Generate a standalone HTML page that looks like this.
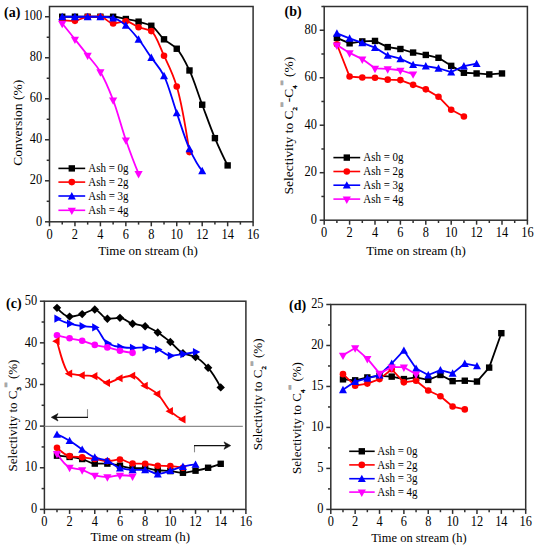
<!DOCTYPE html><html><head><meta charset="utf-8"><style>html,body{margin:0;padding:0;background:#fff}svg{display:block}</style></head><body><svg width="537" height="550" viewBox="0 0 537 550" font-family="'Liberation Serif', serif" fill="#000">
<rect width="537" height="550" fill="#fff"/>
<path d="M62.23,16.75 C66.47,16.75 70.71,16.75 74.95,16.75 C79.19,16.75 83.43,16.75 87.67,16.75 C91.92,16.75 96.16,16.75 100.40,16.75 C104.64,16.75 108.88,16.75 113.12,16.75 C117.37,16.75 121.61,18.19 125.85,19.01 C130.09,19.82 134.33,20.60 138.57,21.67 C142.82,22.75 147.06,23.68 151.30,25.77 C155.54,27.87 159.78,35.60 164.02,39.31 C168.27,43.01 172.51,44.35 176.75,48.74 C180.99,53.12 185.23,61.61 189.47,70.47 C193.72,79.34 197.96,93.44 202.20,104.72 C206.44,115.99 210.68,128.13 214.92,138.14 C219.17,148.15 223.41,157.35 227.65,165.41" fill="none" stroke="#000000" stroke-width="1.8" stroke-linejoin="round"/>
<rect x="59.02" y="13.55" width="6.40" height="6.40" fill="#000000"/>
<rect x="71.75" y="13.55" width="6.40" height="6.40" fill="#000000"/>
<rect x="84.47" y="13.55" width="6.40" height="6.40" fill="#000000"/>
<rect x="97.20" y="13.55" width="6.40" height="6.40" fill="#000000"/>
<rect x="109.92" y="13.55" width="6.40" height="6.40" fill="#000000"/>
<rect x="122.65" y="15.81" width="6.40" height="6.40" fill="#000000"/>
<rect x="135.38" y="18.47" width="6.40" height="6.40" fill="#000000"/>
<rect x="148.10" y="22.57" width="6.40" height="6.40" fill="#000000"/>
<rect x="160.82" y="36.11" width="6.40" height="6.40" fill="#000000"/>
<rect x="173.55" y="45.54" width="6.40" height="6.40" fill="#000000"/>
<rect x="186.28" y="67.27" width="6.40" height="6.40" fill="#000000"/>
<rect x="199.00" y="101.52" width="6.40" height="6.40" fill="#000000"/>
<rect x="211.72" y="134.94" width="6.40" height="6.40" fill="#000000"/>
<rect x="224.45" y="162.21" width="6.40" height="6.40" fill="#000000"/>
<path d="M62.23,19.83 C66.47,20.85 70.71,20.85 74.95,20.85 C79.19,20.85 83.43,16.75 87.67,16.75 C91.92,16.75 96.16,16.75 100.40,16.75 C104.64,16.75 108.88,23.52 113.12,23.52 C117.37,23.52 121.61,21.26 125.85,21.26 C130.09,21.26 134.33,25.64 138.57,27.21 C142.82,28.78 147.06,28.86 151.30,31.11 C155.54,33.35 159.78,46.60 164.02,55.71 C168.27,64.82 172.51,72.51 176.75,86.47 C180.99,100.43 185.23,124.40 189.47,152.08" fill="none" stroke="#ff0000" stroke-width="1.8" stroke-linejoin="round"/>
<circle cx="62.23" cy="19.83" r="3.30" fill="#ff0000"/>
<circle cx="74.95" cy="20.85" r="3.30" fill="#ff0000"/>
<circle cx="87.67" cy="16.75" r="3.30" fill="#ff0000"/>
<circle cx="100.40" cy="16.75" r="3.30" fill="#ff0000"/>
<circle cx="113.12" cy="23.52" r="3.30" fill="#ff0000"/>
<circle cx="125.85" cy="21.26" r="3.30" fill="#ff0000"/>
<circle cx="138.57" cy="27.21" r="3.30" fill="#ff0000"/>
<circle cx="151.30" cy="31.11" r="3.30" fill="#ff0000"/>
<circle cx="164.02" cy="55.71" r="3.30" fill="#ff0000"/>
<circle cx="176.75" cy="86.47" r="3.30" fill="#ff0000"/>
<circle cx="189.47" cy="152.08" r="3.30" fill="#ff0000"/>
<path d="M62.23,16.75 C66.47,16.75 70.71,16.75 74.95,16.75 C79.19,16.75 83.43,16.75 87.67,16.75 C91.92,16.75 96.16,16.75 100.40,16.75 C104.64,16.75 108.88,17.28 113.12,17.98 C117.37,18.69 121.61,22.15 125.85,25.36 C130.09,28.58 134.33,34.04 138.57,39.31 C142.82,44.58 147.06,51.47 151.30,57.56 C155.54,63.64 159.78,67.65 164.02,75.81 C168.27,83.96 172.51,100.76 176.75,112.92 C180.99,125.08 185.23,139.73 189.47,148.80 C193.72,157.88 197.96,165.75 202.20,170.74" fill="none" stroke="#0000ff" stroke-width="1.8" stroke-linejoin="round"/>
<path d="M62.23,12.75 L66.22,20.15 L58.23,20.15Z" fill="#0000ff"/>
<path d="M74.95,12.75 L78.95,20.15 L70.95,20.15Z" fill="#0000ff"/>
<path d="M87.67,12.75 L91.67,20.15 L83.67,20.15Z" fill="#0000ff"/>
<path d="M100.40,12.75 L104.40,20.15 L96.40,20.15Z" fill="#0000ff"/>
<path d="M113.12,13.98 L117.12,21.38 L109.12,21.38Z" fill="#0000ff"/>
<path d="M125.85,21.36 L129.85,28.76 L121.85,28.76Z" fill="#0000ff"/>
<path d="M138.57,35.31 L142.57,42.71 L134.57,42.71Z" fill="#0000ff"/>
<path d="M151.30,53.56 L155.30,60.96 L147.30,60.96Z" fill="#0000ff"/>
<path d="M164.02,71.81 L168.02,79.21 L160.02,79.21Z" fill="#0000ff"/>
<path d="M176.75,108.92 L180.75,116.32 L172.75,116.32Z" fill="#0000ff"/>
<path d="M189.47,144.80 L193.47,152.20 L185.47,152.20Z" fill="#0000ff"/>
<path d="M202.20,166.74 L206.20,174.14 L198.20,174.14Z" fill="#0000ff"/>
<path d="M62.23,23.52 C66.47,28.75 70.71,34.01 74.95,39.31 C79.19,44.60 83.43,49.87 87.67,55.30 C91.92,60.73 96.16,64.95 100.40,71.91 C104.64,78.87 108.88,89.00 113.12,100.00 C117.37,111.00 121.61,127.81 125.85,139.99 C130.09,152.16 134.33,163.46 138.57,173.61" fill="none" stroke="#ff00ff" stroke-width="1.8" stroke-linejoin="round"/>
<path d="M62.23,28.32 L66.33,20.92 L58.12,20.92Z" fill="#ff00ff"/>
<path d="M74.95,44.11 L79.05,36.71 L70.85,36.71Z" fill="#ff00ff"/>
<path d="M87.67,60.10 L91.77,52.70 L83.58,52.70Z" fill="#ff00ff"/>
<path d="M100.40,76.71 L104.50,69.31 L96.30,69.31Z" fill="#ff00ff"/>
<path d="M113.12,104.80 L117.22,97.40 L109.03,97.40Z" fill="#ff00ff"/>
<path d="M125.85,144.79 L129.95,137.39 L121.75,137.39Z" fill="#ff00ff"/>
<path d="M138.57,178.41 L142.67,171.01 L134.47,171.01Z" fill="#ff00ff"/>
<rect x="49.50" y="6.50" width="203.60" height="215.30" fill="none" stroke="#303030" stroke-width="1.5"/>
<line x1="49.50" y1="221.80" x2="49.50" y2="226.30" stroke="#303030" stroke-width="1.5"/>
<text transform="translate(49.50,238.80) scale(0.95,1.06)" font-size="13" text-anchor="middle">0</text>
<line x1="62.23" y1="221.80" x2="62.23" y2="224.60" stroke="#303030" stroke-width="1.5"/>
<line x1="74.95" y1="221.80" x2="74.95" y2="226.30" stroke="#303030" stroke-width="1.5"/>
<text transform="translate(74.95,238.80) scale(0.95,1.06)" font-size="13" text-anchor="middle">2</text>
<line x1="87.67" y1="221.80" x2="87.67" y2="224.60" stroke="#303030" stroke-width="1.5"/>
<line x1="100.40" y1="221.80" x2="100.40" y2="226.30" stroke="#303030" stroke-width="1.5"/>
<text transform="translate(100.40,238.80) scale(0.95,1.06)" font-size="13" text-anchor="middle">4</text>
<line x1="113.12" y1="221.80" x2="113.12" y2="224.60" stroke="#303030" stroke-width="1.5"/>
<line x1="125.85" y1="221.80" x2="125.85" y2="226.30" stroke="#303030" stroke-width="1.5"/>
<text transform="translate(125.85,238.80) scale(0.95,1.06)" font-size="13" text-anchor="middle">6</text>
<line x1="138.57" y1="221.80" x2="138.57" y2="224.60" stroke="#303030" stroke-width="1.5"/>
<line x1="151.30" y1="221.80" x2="151.30" y2="226.30" stroke="#303030" stroke-width="1.5"/>
<text transform="translate(151.30,238.80) scale(0.95,1.06)" font-size="13" text-anchor="middle">8</text>
<line x1="164.02" y1="221.80" x2="164.02" y2="224.60" stroke="#303030" stroke-width="1.5"/>
<line x1="176.75" y1="221.80" x2="176.75" y2="226.30" stroke="#303030" stroke-width="1.5"/>
<text transform="translate(176.75,238.80) scale(0.95,1.06)" font-size="13" text-anchor="middle">10</text>
<line x1="189.47" y1="221.80" x2="189.47" y2="224.60" stroke="#303030" stroke-width="1.5"/>
<line x1="202.20" y1="221.80" x2="202.20" y2="226.30" stroke="#303030" stroke-width="1.5"/>
<text transform="translate(202.20,238.80) scale(0.95,1.06)" font-size="13" text-anchor="middle">12</text>
<line x1="214.92" y1="221.80" x2="214.92" y2="224.60" stroke="#303030" stroke-width="1.5"/>
<line x1="227.65" y1="221.80" x2="227.65" y2="226.30" stroke="#303030" stroke-width="1.5"/>
<text transform="translate(227.65,238.80) scale(0.95,1.06)" font-size="13" text-anchor="middle">14</text>
<line x1="240.38" y1="221.80" x2="240.38" y2="224.60" stroke="#303030" stroke-width="1.5"/>
<line x1="253.10" y1="221.80" x2="253.10" y2="226.30" stroke="#303030" stroke-width="1.5"/>
<text transform="translate(253.10,238.80) scale(0.95,1.06)" font-size="13" text-anchor="middle">16</text>
<line x1="45.00" y1="221.80" x2="49.50" y2="221.80" stroke="#303030" stroke-width="1.5"/>
<text transform="translate(42.20,225.50) scale(0.95,1.06)" font-size="13" text-anchor="end">0</text>
<line x1="45.00" y1="180.79" x2="49.50" y2="180.79" stroke="#303030" stroke-width="1.5"/>
<text transform="translate(42.20,184.49) scale(0.95,1.06)" font-size="13" text-anchor="end">20</text>
<line x1="45.00" y1="139.78" x2="49.50" y2="139.78" stroke="#303030" stroke-width="1.5"/>
<text transform="translate(42.20,143.48) scale(0.95,1.06)" font-size="13" text-anchor="end">40</text>
<line x1="45.00" y1="98.77" x2="49.50" y2="98.77" stroke="#303030" stroke-width="1.5"/>
<text transform="translate(42.20,102.47) scale(0.95,1.06)" font-size="13" text-anchor="end">60</text>
<line x1="45.00" y1="57.76" x2="49.50" y2="57.76" stroke="#303030" stroke-width="1.5"/>
<text transform="translate(42.20,61.46) scale(0.95,1.06)" font-size="13" text-anchor="end">80</text>
<line x1="45.00" y1="16.75" x2="49.50" y2="16.75" stroke="#303030" stroke-width="1.5"/>
<text transform="translate(42.20,20.45) scale(0.95,1.06)" font-size="13" text-anchor="end">100</text>
<line x1="46.70" y1="201.30" x2="49.50" y2="201.30" stroke="#303030" stroke-width="1.5"/>
<line x1="46.70" y1="160.29" x2="49.50" y2="160.29" stroke="#303030" stroke-width="1.5"/>
<line x1="46.70" y1="119.28" x2="49.50" y2="119.28" stroke="#303030" stroke-width="1.5"/>
<line x1="46.70" y1="78.27" x2="49.50" y2="78.27" stroke="#303030" stroke-width="1.5"/>
<line x1="46.70" y1="37.26" x2="49.50" y2="37.26" stroke="#303030" stroke-width="1.5"/>
<line x1="58.4" y1="168.4" x2="85.2" y2="168.4" stroke="#000000" stroke-width="1.6"/>
<rect x="68.60" y="165.20" width="6.40" height="6.40" fill="#000000"/>
<text transform="translate(88.2,172.10) scale(1,1.12)" font-size="11">Ash = 0g</text>
<line x1="58.4" y1="182.1" x2="85.2" y2="182.1" stroke="#ff0000" stroke-width="1.6"/>
<circle cx="71.80" cy="182.10" r="3.30" fill="#ff0000"/>
<text transform="translate(88.2,185.80) scale(1,1.12)" font-size="11">Ash = 2g</text>
<line x1="58.4" y1="196" x2="85.2" y2="196" stroke="#0000ff" stroke-width="1.6"/>
<path d="M71.80,192.00 L75.80,199.40 L67.80,199.40Z" fill="#0000ff"/>
<text transform="translate(88.2,199.70) scale(1,1.12)" font-size="11">Ash = 3g</text>
<line x1="58.4" y1="210.3" x2="85.2" y2="210.3" stroke="#ff00ff" stroke-width="1.6"/>
<path d="M71.80,215.10 L75.90,207.70 L67.70,207.70Z" fill="#ff00ff"/>
<text transform="translate(88.2,214.00) scale(1,1.12)" font-size="11">Ash = 4g</text>
<text transform="translate(148,255) scale(1,1.03)" font-size="13" text-anchor="middle">Time on stream (h)</text>
<text transform="translate(21.5,122.8) rotate(-90)" font-size="13.5" text-anchor="middle">Conversion (%)</text>
<text x="4" y="17" font-size="14" font-weight="bold">(a)</text>
<path d="M336.90,37.84 L349.60,43.30 L362.30,41.40 L375.00,40.93 L387.70,47.10 L400.40,49.00 L413.10,52.56 L425.80,54.94 L438.50,57.79 L451.20,65.86 L463.90,72.75 L476.60,73.46 L489.30,74.41 L502.00,73.46" fill="none" stroke="#000000" stroke-width="1.8" stroke-linejoin="round"/>
<rect x="333.70" y="34.64" width="6.40" height="6.40" fill="#000000"/>
<rect x="346.40" y="40.10" width="6.40" height="6.40" fill="#000000"/>
<rect x="359.10" y="38.20" width="6.40" height="6.40" fill="#000000"/>
<rect x="371.80" y="37.73" width="6.40" height="6.40" fill="#000000"/>
<rect x="384.50" y="43.90" width="6.40" height="6.40" fill="#000000"/>
<rect x="397.20" y="45.80" width="6.40" height="6.40" fill="#000000"/>
<rect x="409.90" y="49.36" width="6.40" height="6.40" fill="#000000"/>
<rect x="422.60" y="51.74" width="6.40" height="6.40" fill="#000000"/>
<rect x="435.30" y="54.59" width="6.40" height="6.40" fill="#000000"/>
<rect x="448.00" y="62.66" width="6.40" height="6.40" fill="#000000"/>
<rect x="460.70" y="69.55" width="6.40" height="6.40" fill="#000000"/>
<rect x="473.40" y="70.26" width="6.40" height="6.40" fill="#000000"/>
<rect x="486.10" y="71.21" width="6.40" height="6.40" fill="#000000"/>
<rect x="498.80" y="70.26" width="6.40" height="6.40" fill="#000000"/>
<path d="M336.90,44.25 L349.60,76.55 L362.30,77.50 L375.00,77.73 L387.70,79.63 L400.40,80.11 L413.10,84.86 L425.80,89.37 L438.50,96.73 L451.20,109.79 L463.90,116.44" fill="none" stroke="#ff0000" stroke-width="1.8" stroke-linejoin="round"/>
<circle cx="336.90" cy="44.25" r="3.30" fill="#ff0000"/>
<circle cx="349.60" cy="76.55" r="3.30" fill="#ff0000"/>
<circle cx="362.30" cy="77.50" r="3.30" fill="#ff0000"/>
<circle cx="375.00" cy="77.73" r="3.30" fill="#ff0000"/>
<circle cx="387.70" cy="79.63" r="3.30" fill="#ff0000"/>
<circle cx="400.40" cy="80.11" r="3.30" fill="#ff0000"/>
<circle cx="413.10" cy="84.86" r="3.30" fill="#ff0000"/>
<circle cx="425.80" cy="89.37" r="3.30" fill="#ff0000"/>
<circle cx="438.50" cy="96.73" r="3.30" fill="#ff0000"/>
<circle cx="451.20" cy="109.79" r="3.30" fill="#ff0000"/>
<circle cx="463.90" cy="116.44" r="3.30" fill="#ff0000"/>
<path d="M336.90,33.33 L349.60,38.32 L362.30,42.83 L375.00,47.58 L387.70,55.41 L400.40,58.74 L413.10,64.67 L425.80,66.10 L438.50,68.24 L451.20,72.03 L463.90,66.10 L476.60,63.72" fill="none" stroke="#0000ff" stroke-width="1.8" stroke-linejoin="round"/>
<path d="M336.90,29.33 L340.90,36.73 L332.90,36.73Z" fill="#0000ff"/>
<path d="M349.60,34.32 L353.60,41.72 L345.60,41.72Z" fill="#0000ff"/>
<path d="M362.30,38.83 L366.30,46.23 L358.30,46.23Z" fill="#0000ff"/>
<path d="M375.00,43.58 L379.00,50.98 L371.00,50.98Z" fill="#0000ff"/>
<path d="M387.70,51.41 L391.70,58.81 L383.70,58.81Z" fill="#0000ff"/>
<path d="M400.40,54.74 L404.40,62.14 L396.40,62.14Z" fill="#0000ff"/>
<path d="M413.10,60.67 L417.10,68.07 L409.10,68.07Z" fill="#0000ff"/>
<path d="M425.80,62.10 L429.80,69.50 L421.80,69.50Z" fill="#0000ff"/>
<path d="M438.50,64.24 L442.50,71.64 L434.50,71.64Z" fill="#0000ff"/>
<path d="M451.20,68.03 L455.20,75.43 L447.20,75.43Z" fill="#0000ff"/>
<path d="M463.90,62.10 L467.90,69.50 L459.90,69.50Z" fill="#0000ff"/>
<path d="M476.60,59.72 L480.60,67.12 L472.60,67.12Z" fill="#0000ff"/>
<path d="M336.90,45.08 L349.60,52.92 L362.30,59.09 L375.00,68.35 L387.70,68.83 L400.40,70.25 L413.10,74.05" fill="none" stroke="#ff00ff" stroke-width="1.8" stroke-linejoin="round"/>
<path d="M336.90,49.88 L341.00,42.48 L332.80,42.48Z" fill="#ff00ff"/>
<path d="M349.60,57.72 L353.70,50.32 L345.50,50.32Z" fill="#ff00ff"/>
<path d="M362.30,63.89 L366.40,56.49 L358.20,56.49Z" fill="#ff00ff"/>
<path d="M375.00,73.15 L379.10,65.75 L370.90,65.75Z" fill="#ff00ff"/>
<path d="M387.70,73.63 L391.80,66.23 L383.60,66.23Z" fill="#ff00ff"/>
<path d="M400.40,75.05 L404.50,67.65 L396.30,67.65Z" fill="#ff00ff"/>
<path d="M413.10,78.85 L417.20,71.45 L409.00,71.45Z" fill="#ff00ff"/>
<rect x="324.20" y="6.50" width="203.20" height="213.70" fill="none" stroke="#303030" stroke-width="1.5"/>
<line x1="324.20" y1="220.20" x2="324.20" y2="224.70" stroke="#303030" stroke-width="1.5"/>
<text transform="translate(324.20,237.20) scale(0.95,1.06)" font-size="13" text-anchor="middle">0</text>
<line x1="336.90" y1="220.20" x2="336.90" y2="223.00" stroke="#303030" stroke-width="1.5"/>
<line x1="349.60" y1="220.20" x2="349.60" y2="224.70" stroke="#303030" stroke-width="1.5"/>
<text transform="translate(349.60,237.20) scale(0.95,1.06)" font-size="13" text-anchor="middle">2</text>
<line x1="362.30" y1="220.20" x2="362.30" y2="223.00" stroke="#303030" stroke-width="1.5"/>
<line x1="375.00" y1="220.20" x2="375.00" y2="224.70" stroke="#303030" stroke-width="1.5"/>
<text transform="translate(375.00,237.20) scale(0.95,1.06)" font-size="13" text-anchor="middle">4</text>
<line x1="387.70" y1="220.20" x2="387.70" y2="223.00" stroke="#303030" stroke-width="1.5"/>
<line x1="400.40" y1="220.20" x2="400.40" y2="224.70" stroke="#303030" stroke-width="1.5"/>
<text transform="translate(400.40,237.20) scale(0.95,1.06)" font-size="13" text-anchor="middle">6</text>
<line x1="413.10" y1="220.20" x2="413.10" y2="223.00" stroke="#303030" stroke-width="1.5"/>
<line x1="425.80" y1="220.20" x2="425.80" y2="224.70" stroke="#303030" stroke-width="1.5"/>
<text transform="translate(425.80,237.20) scale(0.95,1.06)" font-size="13" text-anchor="middle">8</text>
<line x1="438.50" y1="220.20" x2="438.50" y2="223.00" stroke="#303030" stroke-width="1.5"/>
<line x1="451.20" y1="220.20" x2="451.20" y2="224.70" stroke="#303030" stroke-width="1.5"/>
<text transform="translate(451.20,237.20) scale(0.95,1.06)" font-size="13" text-anchor="middle">10</text>
<line x1="463.90" y1="220.20" x2="463.90" y2="223.00" stroke="#303030" stroke-width="1.5"/>
<line x1="476.60" y1="220.20" x2="476.60" y2="224.70" stroke="#303030" stroke-width="1.5"/>
<text transform="translate(476.60,237.20) scale(0.95,1.06)" font-size="13" text-anchor="middle">12</text>
<line x1="489.30" y1="220.20" x2="489.30" y2="223.00" stroke="#303030" stroke-width="1.5"/>
<line x1="502.00" y1="220.20" x2="502.00" y2="224.70" stroke="#303030" stroke-width="1.5"/>
<text transform="translate(502.00,237.20) scale(0.95,1.06)" font-size="13" text-anchor="middle">14</text>
<line x1="514.70" y1="220.20" x2="514.70" y2="223.00" stroke="#303030" stroke-width="1.5"/>
<line x1="527.40" y1="220.20" x2="527.40" y2="224.70" stroke="#303030" stroke-width="1.5"/>
<text transform="translate(527.40,237.20) scale(0.95,1.06)" font-size="13" text-anchor="middle">16</text>
<line x1="319.70" y1="220.20" x2="324.20" y2="220.20" stroke="#303030" stroke-width="1.5"/>
<text transform="translate(316.90,223.90) scale(0.95,1.06)" font-size="13" text-anchor="end">0</text>
<line x1="319.70" y1="172.71" x2="324.20" y2="172.71" stroke="#303030" stroke-width="1.5"/>
<text transform="translate(316.90,176.41) scale(0.95,1.06)" font-size="13" text-anchor="end">20</text>
<line x1="319.70" y1="125.22" x2="324.20" y2="125.22" stroke="#303030" stroke-width="1.5"/>
<text transform="translate(316.90,128.92) scale(0.95,1.06)" font-size="13" text-anchor="end">40</text>
<line x1="319.70" y1="77.73" x2="324.20" y2="77.73" stroke="#303030" stroke-width="1.5"/>
<text transform="translate(316.90,81.43) scale(0.95,1.06)" font-size="13" text-anchor="end">60</text>
<line x1="319.70" y1="30.24" x2="324.20" y2="30.24" stroke="#303030" stroke-width="1.5"/>
<text transform="translate(316.90,33.94) scale(0.95,1.06)" font-size="13" text-anchor="end">80</text>
<line x1="321.40" y1="196.46" x2="324.20" y2="196.46" stroke="#303030" stroke-width="1.5"/>
<line x1="321.40" y1="148.97" x2="324.20" y2="148.97" stroke="#303030" stroke-width="1.5"/>
<line x1="321.40" y1="101.48" x2="324.20" y2="101.48" stroke="#303030" stroke-width="1.5"/>
<line x1="321.40" y1="53.99" x2="324.20" y2="53.99" stroke="#303030" stroke-width="1.5"/>
<line x1="321.40" y1="6.50" x2="324.20" y2="6.50" stroke="#303030" stroke-width="1.5"/>
<line x1="333.4" y1="157.6" x2="360.2" y2="157.6" stroke="#000000" stroke-width="1.6"/>
<rect x="343.60" y="154.40" width="6.40" height="6.40" fill="#000000"/>
<text transform="translate(363.2,161.30) scale(1,1.12)" font-size="11">Ash = 0g</text>
<line x1="333.4" y1="171.5" x2="360.2" y2="171.5" stroke="#ff0000" stroke-width="1.6"/>
<circle cx="346.80" cy="171.50" r="3.30" fill="#ff0000"/>
<text transform="translate(363.2,175.20) scale(1,1.12)" font-size="11">Ash = 2g</text>
<line x1="333.4" y1="185.2" x2="360.2" y2="185.2" stroke="#0000ff" stroke-width="1.6"/>
<path d="M346.80,181.20 L350.80,188.60 L342.80,188.60Z" fill="#0000ff"/>
<text transform="translate(363.2,188.90) scale(1,1.12)" font-size="11">Ash = 3g</text>
<line x1="333.4" y1="199.1" x2="360.2" y2="199.1" stroke="#ff00ff" stroke-width="1.6"/>
<path d="M346.80,203.90 L350.90,196.50 L342.70,196.50Z" fill="#ff00ff"/>
<text transform="translate(363.2,202.80) scale(1,1.12)" font-size="11">Ash = 4g</text>
<text transform="translate(416,255) scale(1,1.03)" font-size="13" text-anchor="middle">Time on stream (h)</text>
<text x="284.6" y="15.8" font-size="14" font-weight="bold">(b)</text>
<path d="M56.99,307.86 C61.19,312.65 65.39,316.61 69.59,316.61 C73.79,316.61 77.98,315.19 82.18,314.11 C86.38,313.03 90.58,309.53 94.78,309.53 C98.97,309.53 103.17,318.69 107.37,318.69 C111.57,318.69 115.76,317.86 119.96,317.86 C124.16,317.86 128.36,322.52 132.56,323.69 C136.75,324.85 140.95,324.99 145.15,326.18 C149.35,327.37 153.55,329.91 157.74,332.43 C161.94,334.95 166.14,338.56 170.34,342.01 C174.54,345.45 178.73,351.38 182.93,353.25 C187.13,355.12 191.33,355.14 195.53,357.00 C199.72,358.85 203.92,363.18 208.12,367.82 C212.32,372.47 216.51,379.41 220.71,387.39" fill="none" stroke="#000000" stroke-width="1.8" stroke-linejoin="round"/>
<path d="M56.99,303.66 L61.19,307.86 L56.99,312.06 L52.79,307.86Z" fill="#000000"/>
<path d="M69.59,312.41 L73.79,316.61 L69.59,320.81 L65.39,316.61Z" fill="#000000"/>
<path d="M82.18,309.91 L86.38,314.11 L82.18,318.31 L77.98,314.11Z" fill="#000000"/>
<path d="M94.78,305.33 L98.98,309.53 L94.78,313.73 L90.58,309.53Z" fill="#000000"/>
<path d="M107.37,314.49 L111.57,318.69 L107.37,322.89 L103.17,318.69Z" fill="#000000"/>
<path d="M119.96,313.66 L124.16,317.86 L119.96,322.06 L115.76,317.86Z" fill="#000000"/>
<path d="M132.56,319.49 L136.76,323.69 L132.56,327.89 L128.36,323.69Z" fill="#000000"/>
<path d="M145.15,321.98 L149.35,326.18 L145.15,330.38 L140.95,326.18Z" fill="#000000"/>
<path d="M157.74,328.23 L161.94,332.43 L157.74,336.63 L153.54,332.43Z" fill="#000000"/>
<path d="M170.34,337.81 L174.54,342.01 L170.34,346.21 L166.14,342.01Z" fill="#000000"/>
<path d="M182.93,349.05 L187.13,353.25 L182.93,357.45 L178.73,353.25Z" fill="#000000"/>
<path d="M195.53,352.80 L199.72,357.00 L195.53,361.20 L191.33,357.00Z" fill="#000000"/>
<path d="M208.12,363.62 L212.32,367.82 L208.12,372.02 L203.92,367.82Z" fill="#000000"/>
<path d="M220.71,383.19 L224.91,387.39 L220.71,391.59 L216.51,387.39Z" fill="#000000"/>
<path d="M56.99,318.69 C61.19,320.77 65.39,322.58 69.59,323.69 C73.79,324.80 77.98,325.63 82.18,326.18 C86.38,326.74 90.58,326.66 94.78,327.43 C98.97,328.21 103.17,341.24 107.37,343.26 C111.57,345.28 115.76,346.55 119.96,347.00 C124.16,347.46 128.36,347.84 132.56,347.84 C136.75,347.84 140.95,347.42 145.15,347.42 C149.35,347.42 153.55,348.46 157.74,349.50 C161.94,350.54 166.14,355.75 170.34,355.75 C174.54,355.75 178.73,354.70 182.93,354.08 C187.13,353.47 191.33,352.76 195.53,352.00" fill="none" stroke="#0000ff" stroke-width="1.8" stroke-linejoin="round"/>
<path d="M61.79,318.69 L54.39,314.59 L54.39,322.79Z" fill="#0000ff"/>
<path d="M74.39,323.69 L66.99,319.59 L66.99,327.79Z" fill="#0000ff"/>
<path d="M86.98,326.18 L79.58,322.08 L79.58,330.28Z" fill="#0000ff"/>
<path d="M99.58,327.43 L92.18,323.33 L92.18,331.53Z" fill="#0000ff"/>
<path d="M112.17,343.26 L104.77,339.16 L104.77,347.36Z" fill="#0000ff"/>
<path d="M124.76,347.00 L117.36,342.90 L117.36,351.10Z" fill="#0000ff"/>
<path d="M137.36,347.84 L129.96,343.74 L129.96,351.94Z" fill="#0000ff"/>
<path d="M149.95,347.42 L142.55,343.32 L142.55,351.52Z" fill="#0000ff"/>
<path d="M162.54,349.50 L155.14,345.40 L155.14,353.60Z" fill="#0000ff"/>
<path d="M175.14,355.75 L167.74,351.65 L167.74,359.85Z" fill="#0000ff"/>
<path d="M187.73,354.08 L180.33,349.98 L180.33,358.18Z" fill="#0000ff"/>
<path d="M200.33,352.00 L192.93,347.90 L192.93,356.10Z" fill="#0000ff"/>
<path d="M56.99,335.34 C61.19,336.39 65.39,337.36 69.59,338.26 C73.79,339.16 77.98,339.72 82.18,340.76 C86.38,341.80 90.58,343.88 94.78,344.92 C98.97,345.96 103.17,346.47 107.37,347.42 C111.57,348.37 115.76,349.90 119.96,350.75 C124.16,351.61 128.36,352.35 132.56,352.83" fill="none" stroke="#ff00ff" stroke-width="1.8" stroke-linejoin="round"/>
<circle cx="56.99" cy="335.34" r="3.30" fill="#ff00ff"/>
<circle cx="69.59" cy="338.26" r="3.30" fill="#ff00ff"/>
<circle cx="82.18" cy="340.76" r="3.30" fill="#ff00ff"/>
<circle cx="94.78" cy="344.92" r="3.30" fill="#ff00ff"/>
<circle cx="107.37" cy="347.42" r="3.30" fill="#ff00ff"/>
<circle cx="119.96" cy="350.75" r="3.30" fill="#ff00ff"/>
<circle cx="132.56" cy="352.83" r="3.30" fill="#ff00ff"/>
<path d="M56.99,341.17 C61.19,357.14 65.39,372.60 69.59,373.65 C73.79,374.71 77.98,374.95 82.18,375.32 C86.38,375.69 90.58,375.66 94.78,376.15 C98.97,376.65 103.17,382.81 107.37,382.81 C111.57,382.81 115.76,379.31 119.96,378.23 C124.16,377.16 128.36,375.74 132.56,375.74 C136.75,375.74 140.95,382.70 145.15,385.73 C149.35,388.76 153.55,390.33 157.74,394.06 C161.94,397.79 166.14,407.40 170.34,411.13 C174.54,414.86 178.73,418.14 182.93,419.46" fill="none" stroke="#ff0000" stroke-width="1.8" stroke-linejoin="round"/>
<path d="M52.19,341.17 L59.59,337.07 L59.59,345.27Z" fill="#ff0000"/>
<path d="M64.79,373.65 L72.19,369.55 L72.19,377.75Z" fill="#ff0000"/>
<path d="M77.38,375.32 L84.78,371.22 L84.78,379.42Z" fill="#ff0000"/>
<path d="M89.98,376.15 L97.38,372.05 L97.38,380.25Z" fill="#ff0000"/>
<path d="M102.57,382.81 L109.97,378.71 L109.97,386.91Z" fill="#ff0000"/>
<path d="M115.16,378.23 L122.56,374.13 L122.56,382.33Z" fill="#ff0000"/>
<path d="M127.76,375.74 L135.16,371.64 L135.16,379.84Z" fill="#ff0000"/>
<path d="M140.35,385.73 L147.75,381.63 L147.75,389.83Z" fill="#ff0000"/>
<path d="M152.94,394.06 L160.34,389.96 L160.34,398.16Z" fill="#ff0000"/>
<path d="M165.54,411.13 L172.94,407.03 L172.94,415.23Z" fill="#ff0000"/>
<path d="M178.13,419.46 L185.53,415.36 L185.53,423.56Z" fill="#ff0000"/>
<path d="M56.99,455.68 C61.19,455.96 65.39,456.41 69.59,456.93 C73.79,457.45 77.98,458.06 82.18,459.02 C86.38,459.97 90.58,463.60 94.78,463.60 C98.97,463.60 103.17,463.60 107.37,463.60 C111.57,463.60 115.76,464.92 119.96,465.68 C124.16,466.44 128.36,468.18 132.56,468.18 C136.75,468.18 140.95,468.18 145.15,468.18 C149.35,468.18 153.55,469.86 157.74,470.26 C161.94,470.65 166.14,470.72 170.34,471.09 C174.54,471.46 178.73,472.76 182.93,472.76 C187.13,472.76 191.33,471.48 195.53,470.67 C199.72,469.87 203.92,468.88 208.12,467.76 C212.32,466.64 216.51,465.30 220.71,463.80" fill="none" stroke="#000000" stroke-width="1.8" stroke-linejoin="round"/>
<rect x="53.79" y="452.48" width="6.40" height="6.40" fill="#000000"/>
<rect x="66.39" y="453.73" width="6.40" height="6.40" fill="#000000"/>
<rect x="78.98" y="455.82" width="6.40" height="6.40" fill="#000000"/>
<rect x="91.58" y="460.40" width="6.40" height="6.40" fill="#000000"/>
<rect x="104.17" y="460.40" width="6.40" height="6.40" fill="#000000"/>
<rect x="116.76" y="462.48" width="6.40" height="6.40" fill="#000000"/>
<rect x="129.36" y="464.98" width="6.40" height="6.40" fill="#000000"/>
<rect x="141.95" y="464.98" width="6.40" height="6.40" fill="#000000"/>
<rect x="154.54" y="467.06" width="6.40" height="6.40" fill="#000000"/>
<rect x="167.14" y="467.89" width="6.40" height="6.40" fill="#000000"/>
<rect x="179.73" y="469.56" width="6.40" height="6.40" fill="#000000"/>
<rect x="192.33" y="467.47" width="6.40" height="6.40" fill="#000000"/>
<rect x="204.92" y="464.56" width="6.40" height="6.40" fill="#000000"/>
<rect x="217.51" y="460.60" width="6.40" height="6.40" fill="#000000"/>
<path d="M56.99,447.77 C61.19,451.73 65.39,455.38 69.59,456.10 C73.79,456.82 77.98,456.87 82.18,457.35 C86.38,457.83 90.58,458.40 94.78,459.02 C98.97,459.63 103.17,461.10 107.37,461.10 C111.57,461.10 115.76,459.43 119.96,459.43 C124.16,459.43 128.36,463.46 132.56,463.60 C136.75,463.73 140.95,463.68 145.15,463.80 C149.35,463.93 153.55,465.45 157.74,465.68 C161.94,465.91 166.14,465.87 170.34,466.09 C174.54,466.32 178.73,467.00 182.93,467.76" fill="none" stroke="#ff0000" stroke-width="1.8" stroke-linejoin="round"/>
<circle cx="56.99" cy="447.77" r="3.30" fill="#ff0000"/>
<circle cx="69.59" cy="456.10" r="3.30" fill="#ff0000"/>
<circle cx="82.18" cy="457.35" r="3.30" fill="#ff0000"/>
<circle cx="94.78" cy="459.02" r="3.30" fill="#ff0000"/>
<circle cx="107.37" cy="461.10" r="3.30" fill="#ff0000"/>
<circle cx="119.96" cy="459.43" r="3.30" fill="#ff0000"/>
<circle cx="132.56" cy="463.60" r="3.30" fill="#ff0000"/>
<circle cx="145.15" cy="463.80" r="3.30" fill="#ff0000"/>
<circle cx="157.74" cy="465.68" r="3.30" fill="#ff0000"/>
<circle cx="170.34" cy="466.09" r="3.30" fill="#ff0000"/>
<circle cx="182.93" cy="467.76" r="3.30" fill="#ff0000"/>
<path d="M56.99,434.45 C61.19,436.11 65.39,438.26 69.59,440.69 C73.79,443.12 77.98,446.67 82.18,449.44 C86.38,452.21 90.58,455.79 94.78,457.35 C98.97,458.91 103.17,459.14 107.37,460.68 C111.57,462.22 115.76,467.27 119.96,468.18 C124.16,469.08 128.36,469.84 132.56,469.84 C136.75,469.84 140.95,469.84 145.15,469.84 C149.35,469.84 153.55,474.01 157.74,474.01 C161.94,474.01 166.14,471.91 170.34,470.67 C174.54,469.44 178.73,467.44 182.93,466.51 C187.13,465.59 191.33,464.78 195.53,464.43" fill="none" stroke="#0000ff" stroke-width="1.8" stroke-linejoin="round"/>
<path d="M56.99,430.45 L60.99,437.85 L52.99,437.85Z" fill="#0000ff"/>
<path d="M69.59,436.69 L73.59,444.09 L65.59,444.09Z" fill="#0000ff"/>
<path d="M82.18,445.44 L86.18,452.84 L78.18,452.84Z" fill="#0000ff"/>
<path d="M94.78,453.35 L98.78,460.75 L90.78,460.75Z" fill="#0000ff"/>
<path d="M107.37,456.68 L111.37,464.08 L103.37,464.08Z" fill="#0000ff"/>
<path d="M119.96,464.18 L123.96,471.58 L115.96,471.58Z" fill="#0000ff"/>
<path d="M132.56,465.84 L136.56,473.24 L128.56,473.24Z" fill="#0000ff"/>
<path d="M145.15,465.84 L149.15,473.24 L141.15,473.24Z" fill="#0000ff"/>
<path d="M157.74,470.01 L161.74,477.41 L153.74,477.41Z" fill="#0000ff"/>
<path d="M170.34,466.67 L174.34,474.07 L166.34,474.07Z" fill="#0000ff"/>
<path d="M182.93,462.51 L186.93,469.91 L178.93,469.91Z" fill="#0000ff"/>
<path d="M195.53,460.43 L199.53,467.83 L191.53,467.83Z" fill="#0000ff"/>
<path d="M56.99,453.60 C61.19,460.06 65.39,465.93 69.59,467.34 C73.79,468.75 77.98,468.70 82.18,469.84 C86.38,470.98 90.58,474.41 94.78,475.26 C98.97,476.10 103.17,476.92 107.37,476.92 C111.57,476.92 115.76,475.26 119.96,475.26 C124.16,475.26 128.36,475.39 132.56,476.09" fill="none" stroke="#ff00ff" stroke-width="1.8" stroke-linejoin="round"/>
<path d="M56.99,458.40 L61.09,451.00 L52.89,451.00Z" fill="#ff00ff"/>
<path d="M69.59,472.14 L73.69,464.74 L65.49,464.74Z" fill="#ff00ff"/>
<path d="M82.18,474.64 L86.28,467.24 L78.08,467.24Z" fill="#ff00ff"/>
<path d="M94.78,480.06 L98.88,472.66 L90.68,472.66Z" fill="#ff00ff"/>
<path d="M107.37,481.72 L111.47,474.32 L103.27,474.32Z" fill="#ff00ff"/>
<path d="M119.96,480.06 L124.06,472.66 L115.86,472.66Z" fill="#ff00ff"/>
<path d="M132.56,480.89 L136.66,473.49 L128.46,473.49Z" fill="#ff00ff"/>
<rect x="44.40" y="301.20" width="201.50" height="208.20" fill="none" stroke="#303030" stroke-width="1.5"/>
<line x1="44.40" y1="509.40" x2="44.40" y2="513.90" stroke="#303030" stroke-width="1.5"/>
<text transform="translate(44.40,526.40) scale(0.95,1.06)" font-size="13" text-anchor="middle">0</text>
<line x1="56.99" y1="509.40" x2="56.99" y2="512.20" stroke="#303030" stroke-width="1.5"/>
<line x1="69.59" y1="509.40" x2="69.59" y2="513.90" stroke="#303030" stroke-width="1.5"/>
<text transform="translate(69.59,526.40) scale(0.95,1.06)" font-size="13" text-anchor="middle">2</text>
<line x1="82.18" y1="509.40" x2="82.18" y2="512.20" stroke="#303030" stroke-width="1.5"/>
<line x1="94.78" y1="509.40" x2="94.78" y2="513.90" stroke="#303030" stroke-width="1.5"/>
<text transform="translate(94.78,526.40) scale(0.95,1.06)" font-size="13" text-anchor="middle">4</text>
<line x1="107.37" y1="509.40" x2="107.37" y2="512.20" stroke="#303030" stroke-width="1.5"/>
<line x1="119.96" y1="509.40" x2="119.96" y2="513.90" stroke="#303030" stroke-width="1.5"/>
<text transform="translate(119.96,526.40) scale(0.95,1.06)" font-size="13" text-anchor="middle">6</text>
<line x1="132.56" y1="509.40" x2="132.56" y2="512.20" stroke="#303030" stroke-width="1.5"/>
<line x1="145.15" y1="509.40" x2="145.15" y2="513.90" stroke="#303030" stroke-width="1.5"/>
<text transform="translate(145.15,526.40) scale(0.95,1.06)" font-size="13" text-anchor="middle">8</text>
<line x1="157.74" y1="509.40" x2="157.74" y2="512.20" stroke="#303030" stroke-width="1.5"/>
<line x1="170.34" y1="509.40" x2="170.34" y2="513.90" stroke="#303030" stroke-width="1.5"/>
<text transform="translate(170.34,526.40) scale(0.95,1.06)" font-size="13" text-anchor="middle">10</text>
<line x1="182.93" y1="509.40" x2="182.93" y2="512.20" stroke="#303030" stroke-width="1.5"/>
<line x1="195.53" y1="509.40" x2="195.53" y2="513.90" stroke="#303030" stroke-width="1.5"/>
<text transform="translate(195.53,526.40) scale(0.95,1.06)" font-size="13" text-anchor="middle">12</text>
<line x1="208.12" y1="509.40" x2="208.12" y2="512.20" stroke="#303030" stroke-width="1.5"/>
<line x1="220.71" y1="509.40" x2="220.71" y2="513.90" stroke="#303030" stroke-width="1.5"/>
<text transform="translate(220.71,526.40) scale(0.95,1.06)" font-size="13" text-anchor="middle">14</text>
<line x1="233.31" y1="509.40" x2="233.31" y2="512.20" stroke="#303030" stroke-width="1.5"/>
<line x1="245.90" y1="509.40" x2="245.90" y2="513.90" stroke="#303030" stroke-width="1.5"/>
<text transform="translate(245.90,526.40) scale(0.95,1.06)" font-size="13" text-anchor="middle">16</text>
<line x1="39.90" y1="509.40" x2="44.40" y2="509.40" stroke="#303030" stroke-width="1.5"/>
<text transform="translate(37.10,513.10) scale(0.95,1.06)" font-size="13" text-anchor="end">0</text>
<line x1="39.90" y1="467.76" x2="44.40" y2="467.76" stroke="#303030" stroke-width="1.5"/>
<text transform="translate(37.10,471.46) scale(0.95,1.06)" font-size="13" text-anchor="end">10</text>
<line x1="39.90" y1="426.12" x2="44.40" y2="426.12" stroke="#303030" stroke-width="1.5"/>
<text transform="translate(37.10,429.82) scale(0.95,1.06)" font-size="13" text-anchor="end">20</text>
<line x1="39.90" y1="384.48" x2="44.40" y2="384.48" stroke="#303030" stroke-width="1.5"/>
<text transform="translate(37.10,388.18) scale(0.95,1.06)" font-size="13" text-anchor="end">30</text>
<line x1="39.90" y1="342.84" x2="44.40" y2="342.84" stroke="#303030" stroke-width="1.5"/>
<text transform="translate(37.10,346.54) scale(0.95,1.06)" font-size="13" text-anchor="end">40</text>
<line x1="39.90" y1="301.20" x2="44.40" y2="301.20" stroke="#303030" stroke-width="1.5"/>
<text transform="translate(37.10,304.90) scale(0.95,1.06)" font-size="13" text-anchor="end">50</text>
<line x1="41.60" y1="488.58" x2="44.40" y2="488.58" stroke="#303030" stroke-width="1.5"/>
<line x1="41.60" y1="446.94" x2="44.40" y2="446.94" stroke="#303030" stroke-width="1.5"/>
<line x1="41.60" y1="405.30" x2="44.40" y2="405.30" stroke="#303030" stroke-width="1.5"/>
<line x1="41.60" y1="363.66" x2="44.40" y2="363.66" stroke="#303030" stroke-width="1.5"/>
<line x1="41.60" y1="322.02" x2="44.40" y2="322.02" stroke="#303030" stroke-width="1.5"/>
<line x1="44.4" y1="426.4" x2="242.8" y2="426.4" stroke="#8c8c8c" stroke-width="1.1"/>
<text transform="translate(140.3,540.6) scale(1,1.03)" font-size="13" text-anchor="middle">Time on stream (h)</text>
<text x="6" y="308.2" font-size="14" font-weight="bold">(c)</text>
<path d="M342.98,379.33 L355.16,380.31 L367.34,377.44 L379.53,375.81 L391.71,376.62 L403.89,379.08 L416.07,377.44 L428.25,379.90 L440.43,374.99 L452.61,381.13 L464.79,380.72 L476.98,381.54 L489.16,367.61 L501.34,333.19" fill="none" stroke="#000000" stroke-width="1.8" stroke-linejoin="round"/>
<rect x="339.78" y="376.13" width="6.40" height="6.40" fill="#000000"/>
<rect x="351.96" y="377.11" width="6.40" height="6.40" fill="#000000"/>
<rect x="364.14" y="374.24" width="6.40" height="6.40" fill="#000000"/>
<rect x="376.33" y="372.61" width="6.40" height="6.40" fill="#000000"/>
<rect x="388.51" y="373.42" width="6.40" height="6.40" fill="#000000"/>
<rect x="400.69" y="375.88" width="6.40" height="6.40" fill="#000000"/>
<rect x="412.87" y="374.24" width="6.40" height="6.40" fill="#000000"/>
<rect x="425.05" y="376.70" width="6.40" height="6.40" fill="#000000"/>
<rect x="437.23" y="371.79" width="6.40" height="6.40" fill="#000000"/>
<rect x="449.41" y="377.93" width="6.40" height="6.40" fill="#000000"/>
<rect x="461.59" y="377.52" width="6.40" height="6.40" fill="#000000"/>
<rect x="473.78" y="378.34" width="6.40" height="6.40" fill="#000000"/>
<rect x="485.96" y="364.41" width="6.40" height="6.40" fill="#000000"/>
<rect x="498.14" y="329.99" width="6.40" height="6.40" fill="#000000"/>
<path d="M342.98,374.17 L355.16,385.64 L367.34,383.59 L379.53,379.08 L391.71,369.25 L403.89,382.36 L416.07,380.72 L428.25,390.56 L440.43,396.30 L452.61,406.54 L464.79,409.41" fill="none" stroke="#ff0000" stroke-width="1.8" stroke-linejoin="round"/>
<circle cx="342.98" cy="374.17" r="3.30" fill="#ff0000"/>
<circle cx="355.16" cy="385.64" r="3.30" fill="#ff0000"/>
<circle cx="367.34" cy="383.59" r="3.30" fill="#ff0000"/>
<circle cx="379.53" cy="379.08" r="3.30" fill="#ff0000"/>
<circle cx="391.71" cy="369.25" r="3.30" fill="#ff0000"/>
<circle cx="403.89" cy="382.36" r="3.30" fill="#ff0000"/>
<circle cx="416.07" cy="380.72" r="3.30" fill="#ff0000"/>
<circle cx="428.25" cy="390.56" r="3.30" fill="#ff0000"/>
<circle cx="440.43" cy="396.30" r="3.30" fill="#ff0000"/>
<circle cx="452.61" cy="406.54" r="3.30" fill="#ff0000"/>
<circle cx="464.79" cy="409.41" r="3.30" fill="#ff0000"/>
<path d="M342.98,389.74 L355.16,381.54 L367.34,378.26 L379.53,374.99 L391.71,363.51 L403.89,350.40 L416.07,368.43 L428.25,374.99 L440.43,370.07 L452.61,373.35 L464.79,363.51 L476.98,365.97" fill="none" stroke="#0000ff" stroke-width="1.8" stroke-linejoin="round"/>
<path d="M342.98,385.74 L346.98,393.14 L338.98,393.14Z" fill="#0000ff"/>
<path d="M355.16,377.54 L359.16,384.94 L351.16,384.94Z" fill="#0000ff"/>
<path d="M367.34,374.26 L371.34,381.66 L363.34,381.66Z" fill="#0000ff"/>
<path d="M379.53,370.99 L383.53,378.39 L375.53,378.39Z" fill="#0000ff"/>
<path d="M391.71,359.51 L395.71,366.91 L387.71,366.91Z" fill="#0000ff"/>
<path d="M403.89,346.40 L407.89,353.80 L399.89,353.80Z" fill="#0000ff"/>
<path d="M416.07,364.43 L420.07,371.83 L412.07,371.83Z" fill="#0000ff"/>
<path d="M428.25,370.99 L432.25,378.39 L424.25,378.39Z" fill="#0000ff"/>
<path d="M440.43,366.07 L444.43,373.47 L436.43,373.47Z" fill="#0000ff"/>
<path d="M452.61,369.35 L456.61,376.75 L448.61,376.75Z" fill="#0000ff"/>
<path d="M464.79,359.51 L468.79,366.91 L460.79,366.91Z" fill="#0000ff"/>
<path d="M476.98,361.97 L480.98,369.37 L472.98,369.37Z" fill="#0000ff"/>
<path d="M342.98,355.32 L355.16,347.94 L367.34,358.59 L379.53,373.35 L391.71,367.20 L403.89,367.20 L416.07,374.17" fill="none" stroke="#ff00ff" stroke-width="1.8" stroke-linejoin="round"/>
<path d="M342.98,360.12 L347.08,352.72 L338.88,352.72Z" fill="#ff00ff"/>
<path d="M355.16,352.74 L359.26,345.34 L351.06,345.34Z" fill="#ff00ff"/>
<path d="M367.34,363.39 L371.44,355.99 L363.24,355.99Z" fill="#ff00ff"/>
<path d="M379.53,378.15 L383.63,370.75 L375.43,370.75Z" fill="#ff00ff"/>
<path d="M391.71,372.00 L395.81,364.60 L387.61,364.60Z" fill="#ff00ff"/>
<path d="M403.89,372.00 L407.99,364.60 L399.79,364.60Z" fill="#ff00ff"/>
<path d="M416.07,378.97 L420.17,371.57 L411.97,371.57Z" fill="#ff00ff"/>
<rect x="330.80" y="304.50" width="194.90" height="204.90" fill="none" stroke="#303030" stroke-width="1.5"/>
<line x1="330.80" y1="509.40" x2="330.80" y2="513.90" stroke="#303030" stroke-width="1.5"/>
<text transform="translate(330.80,526.40) scale(0.95,1.06)" font-size="13" text-anchor="middle">0</text>
<line x1="342.98" y1="509.40" x2="342.98" y2="512.20" stroke="#303030" stroke-width="1.5"/>
<line x1="355.16" y1="509.40" x2="355.16" y2="513.90" stroke="#303030" stroke-width="1.5"/>
<text transform="translate(355.16,526.40) scale(0.95,1.06)" font-size="13" text-anchor="middle">2</text>
<line x1="367.34" y1="509.40" x2="367.34" y2="512.20" stroke="#303030" stroke-width="1.5"/>
<line x1="379.53" y1="509.40" x2="379.53" y2="513.90" stroke="#303030" stroke-width="1.5"/>
<text transform="translate(379.53,526.40) scale(0.95,1.06)" font-size="13" text-anchor="middle">4</text>
<line x1="391.71" y1="509.40" x2="391.71" y2="512.20" stroke="#303030" stroke-width="1.5"/>
<line x1="403.89" y1="509.40" x2="403.89" y2="513.90" stroke="#303030" stroke-width="1.5"/>
<text transform="translate(403.89,526.40) scale(0.95,1.06)" font-size="13" text-anchor="middle">6</text>
<line x1="416.07" y1="509.40" x2="416.07" y2="512.20" stroke="#303030" stroke-width="1.5"/>
<line x1="428.25" y1="509.40" x2="428.25" y2="513.90" stroke="#303030" stroke-width="1.5"/>
<text transform="translate(428.25,526.40) scale(0.95,1.06)" font-size="13" text-anchor="middle">8</text>
<line x1="440.43" y1="509.40" x2="440.43" y2="512.20" stroke="#303030" stroke-width="1.5"/>
<line x1="452.61" y1="509.40" x2="452.61" y2="513.90" stroke="#303030" stroke-width="1.5"/>
<text transform="translate(452.61,526.40) scale(0.95,1.06)" font-size="13" text-anchor="middle">10</text>
<line x1="464.79" y1="509.40" x2="464.79" y2="512.20" stroke="#303030" stroke-width="1.5"/>
<line x1="476.98" y1="509.40" x2="476.98" y2="513.90" stroke="#303030" stroke-width="1.5"/>
<text transform="translate(476.98,526.40) scale(0.95,1.06)" font-size="13" text-anchor="middle">12</text>
<line x1="489.16" y1="509.40" x2="489.16" y2="512.20" stroke="#303030" stroke-width="1.5"/>
<line x1="501.34" y1="509.40" x2="501.34" y2="513.90" stroke="#303030" stroke-width="1.5"/>
<text transform="translate(501.34,526.40) scale(0.95,1.06)" font-size="13" text-anchor="middle">14</text>
<line x1="513.52" y1="509.40" x2="513.52" y2="512.20" stroke="#303030" stroke-width="1.5"/>
<line x1="525.70" y1="509.40" x2="525.70" y2="513.90" stroke="#303030" stroke-width="1.5"/>
<text transform="translate(525.70,526.40) scale(0.95,1.06)" font-size="13" text-anchor="middle">16</text>
<line x1="326.30" y1="509.40" x2="330.80" y2="509.40" stroke="#303030" stroke-width="1.5"/>
<text transform="translate(323.50,513.10) scale(0.95,1.06)" font-size="13" text-anchor="end">0</text>
<line x1="326.30" y1="468.42" x2="330.80" y2="468.42" stroke="#303030" stroke-width="1.5"/>
<text transform="translate(323.50,472.12) scale(0.95,1.06)" font-size="13" text-anchor="end">5</text>
<line x1="326.30" y1="427.44" x2="330.80" y2="427.44" stroke="#303030" stroke-width="1.5"/>
<text transform="translate(323.50,431.14) scale(0.95,1.06)" font-size="13" text-anchor="end">10</text>
<line x1="326.30" y1="386.46" x2="330.80" y2="386.46" stroke="#303030" stroke-width="1.5"/>
<text transform="translate(323.50,390.16) scale(0.95,1.06)" font-size="13" text-anchor="end">15</text>
<line x1="326.30" y1="345.48" x2="330.80" y2="345.48" stroke="#303030" stroke-width="1.5"/>
<text transform="translate(323.50,349.18) scale(0.95,1.06)" font-size="13" text-anchor="end">20</text>
<line x1="326.30" y1="304.50" x2="330.80" y2="304.50" stroke="#303030" stroke-width="1.5"/>
<text transform="translate(323.50,308.20) scale(0.95,1.06)" font-size="13" text-anchor="end">25</text>
<line x1="328.00" y1="488.91" x2="330.80" y2="488.91" stroke="#303030" stroke-width="1.5"/>
<line x1="328.00" y1="447.93" x2="330.80" y2="447.93" stroke="#303030" stroke-width="1.5"/>
<line x1="328.00" y1="406.95" x2="330.80" y2="406.95" stroke="#303030" stroke-width="1.5"/>
<line x1="328.00" y1="365.97" x2="330.80" y2="365.97" stroke="#303030" stroke-width="1.5"/>
<line x1="328.00" y1="324.99" x2="330.80" y2="324.99" stroke="#303030" stroke-width="1.5"/>
<line x1="349.2" y1="451.3" x2="374.7" y2="451.3" stroke="#000000" stroke-width="1.6"/>
<rect x="358.60" y="448.10" width="6.40" height="6.40" fill="#000000"/>
<text transform="translate(377.2,455.00) scale(1,1.12)" font-size="11">Ash = 0g</text>
<line x1="349.2" y1="464.9" x2="374.7" y2="464.9" stroke="#ff0000" stroke-width="1.6"/>
<circle cx="361.80" cy="464.90" r="3.30" fill="#ff0000"/>
<text transform="translate(377.2,468.60) scale(1,1.12)" font-size="11">Ash = 2g</text>
<line x1="349.2" y1="478.7" x2="374.7" y2="478.7" stroke="#0000ff" stroke-width="1.6"/>
<path d="M361.80,474.70 L365.80,482.10 L357.80,482.10Z" fill="#0000ff"/>
<text transform="translate(377.2,482.40) scale(1,1.12)" font-size="11">Ash = 3g</text>
<line x1="349.2" y1="492.1" x2="374.7" y2="492.1" stroke="#ff00ff" stroke-width="1.6"/>
<path d="M361.80,496.90 L365.90,489.50 L357.70,489.50Z" fill="#ff00ff"/>
<text transform="translate(377.2,495.80) scale(1,1.12)" font-size="11">Ash = 4g</text>
<text transform="translate(418.9,542) scale(0.96,1.03)" font-size="13" text-anchor="middle">Time on stream (h)</text>
<text x="289" y="310" font-size="14" font-weight="bold">(d)</text>
<text transform="translate(292.8,125.6) rotate(-90)" font-size="13.5" text-anchor="middle">Selectivity to C<tspan font-size="6.8" dy="4.0" stroke="#000" stroke-width="0.35">2</tspan><tspan font-size="8.5" dy="-11.6" fill="#a8a8a8" stroke="#a8a8a8" stroke-width="0.9" font-weight="bold">=</tspan><tspan dy="7.6">-C</tspan><tspan font-size="6.8" dy="4.0" stroke="#000" stroke-width="0.35">4</tspan><tspan font-size="8.5" dy="-11.6" fill="#a8a8a8" stroke="#a8a8a8" stroke-width="0.9" font-weight="bold">=</tspan><tspan dy="7.6"> (%)</tspan></text>
<text transform="translate(16.5,415.5) rotate(-90)" font-size="13" text-anchor="middle">Selectivity to C<tspan font-size="6.8" dy="4.0" stroke="#000" stroke-width="0.35">3</tspan><tspan font-size="8.5" dy="-11.6" fill="#a8a8a8" stroke="#a8a8a8" stroke-width="0.9" font-weight="bold">=</tspan><tspan dy="7.6"> (%)</tspan></text>
<text transform="translate(262.2,394.4) rotate(-90)" font-size="13" text-anchor="middle">Selectivity to C<tspan font-size="6.8" dy="4.0" stroke="#000" stroke-width="0.35">2</tspan><tspan font-size="8.5" dy="-11.6" fill="#a8a8a8" stroke="#a8a8a8" stroke-width="0.9" font-weight="bold">=</tspan><tspan dy="7.6"> (%)</tspan></text>
<text transform="translate(301,418) rotate(-90)" font-size="13" text-anchor="middle">Selectivity to C<tspan font-size="6.8" dy="4.0" stroke="#000" stroke-width="0.35">4</tspan><tspan font-size="8.5" dy="-11.6" fill="#a8a8a8" stroke="#a8a8a8" stroke-width="0.9" font-weight="bold">=</tspan><tspan dy="7.6"> (%)</tspan></text>
<path d="M87.5,409.2 L87.5,417.3" fill="none" stroke="#8a8a8a" stroke-width="1.1"/>
<path d="M88,417.3 L54,417.3" fill="none" stroke="#111" stroke-width="1.3"/>
<path d="M51.3,417.3 L58,413.6 L56.2,417.3 L58,421Z" fill="#111" stroke="#111" stroke-width="0.6" stroke-linejoin="round"/>
<path d="M194.5,452.3 L194.5,445.6" fill="none" stroke="#8a8a8a" stroke-width="1.1"/>
<path d="M194,445.6 L228,445.6" fill="none" stroke="#111" stroke-width="1.3"/>
<path d="M230.7,445.6 L224,441.9 L225.8,445.6 L224,449.3Z" fill="#111" stroke="#111" stroke-width="0.6" stroke-linejoin="round"/>
</svg></body></html>
